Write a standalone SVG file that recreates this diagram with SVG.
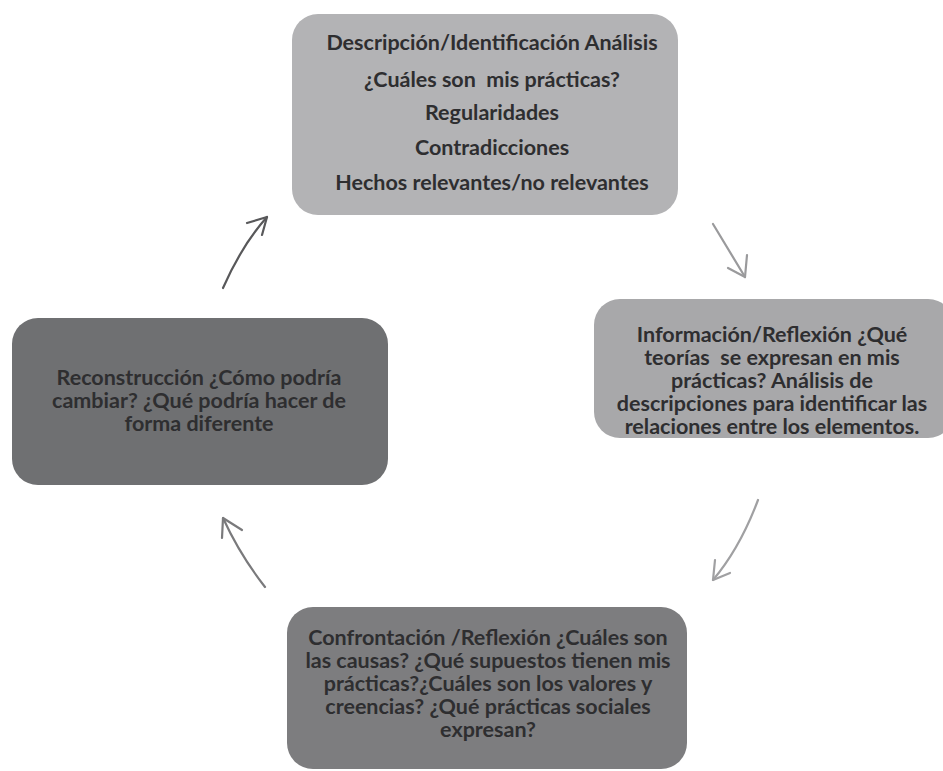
<svg xmlns="http://www.w3.org/2000/svg" width="943" height="771" viewBox="0 0 943 771">
<style>
.t{font-family:Lato,"Open Sans","Liberation Sans",sans-serif;font-weight:700;fill:#2e2e30;text-anchor:middle;font-size:21.5px;white-space:pre}
.a{fill:none;stroke-width:2.2;stroke-linecap:round;stroke-linejoin:round}
</style>
<rect width="943" height="771" fill="#ffffff"/>
<g id="node-descripcion">
<rect x="292" y="14" width="386" height="201" rx="26" fill="#b3b3b5"/>
<text class="t" xml:space="preserve"><tspan x="492" y="50">Descripción/Identificación Análisis</tspan><tspan x="492" y="87">¿Cuáles son  mis prácticas?</tspan><tspan x="492" y="120">Regularidades</tspan><tspan x="492" y="155">Contradicciones</tspan><tspan x="492" y="190">Hechos relevantes/no relevantes</tspan></text>
</g>
<g id="node-informacion">
<rect x="594" y="299" width="360" height="139" rx="26" fill="#a8a8aa"/>
<text class="t" xml:space="preserve"><tspan x="772" y="342">Información/Reflexión ¿Qué</tspan><tspan x="772" y="365">teorías  se expresan en mis</tspan><tspan x="772" y="388">prácticas? Análisis de</tspan><tspan x="772" y="411">descripciones para identificar las</tspan><tspan x="772" y="434">relaciones entre los elementos.</tspan></text>
</g>
<g id="node-reconstruccion">
<rect x="12" y="318" width="376" height="167" rx="26" fill="#6f7072"/>
<text class="t"><tspan x="199" y="385">Reconstrucción ¿Cómo podría</tspan><tspan x="199" y="408">cambiar? ¿Qué podría hacer de</tspan><tspan x="199" y="431">forma diferente</tspan></text>
</g>
<g id="node-confrontacion">
<rect x="287" y="607" width="400" height="162" rx="26" fill="#7d7d7f"/>
<text class="t"><tspan x="488" y="645">Confrontación /Reflexión ¿Cuáles son</tspan><tspan x="488" y="668">las causas? ¿Qué supuestos tienen mis</tspan><tspan x="488" y="691">prácticas?¿Cuáles son los valores y</tspan><tspan x="488" y="714">creencias? ¿Qué prácticas sociales</tspan><tspan x="488" y="737">expresan?</tspan></text>
</g>
<g id="connectors">
<g stroke="#9a9a9c" class="a">
<path d="M713 224 Q730 252 745 277"/>
<path d="M728 268 L745 277 L747 255"/>
</g>
<g stroke="#a0a0a2" class="a">
<path d="M758 500 Q740 548 713 580"/>
<path d="M715 560 L713 580 L730 573"/>
</g>
<g stroke="#7a7a7c" class="a">
<path d="M265 587 Q240 555 223 518"/>
<path d="M222 538 L223 518 L242 530"/>
</g>
<g stroke="#58585a" class="a">
<path d="M223 288 Q242 245 267 217"/>
<path d="M247 223 L267 217 L262 235"/>
</g>
</g>
</svg>
